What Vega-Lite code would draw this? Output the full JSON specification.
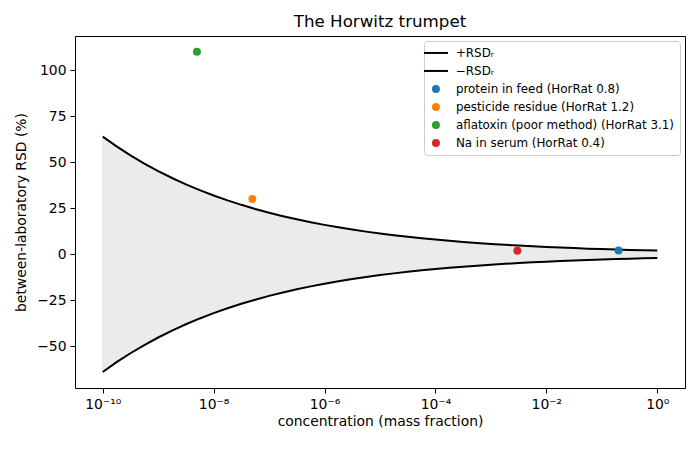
{
  "$schema": "https://vega.github.io/schema/vega-lite/v6.json",
  "autosize": "none",
  "padding": {"left": 75, "top": 36, "right": 15, "bottom": 62},
  "width": 610,
  "height": 352,
  "title": {
    "text": "The Horwitz trumpet",
    "fontSize": 16.7,
    "fontWeight": "normal",
    "font": "DejaVu Sans",
    "color": "black",
    "offset": 5
  },
  "datasets": {
    "curve": [
      {"c": 1e-10, "hi": 63.98, "lo": -63.98},
      {"c": 1.778e-10, "hi": 58.67, "lo": -58.67},
      {"c": 3.162e-10, "hi": 53.80, "lo": -53.80},
      {"c": 5.623e-10, "hi": 49.33, "lo": -49.33},
      {"c": 1e-9, "hi": 45.24, "lo": -45.24},
      {"c": 1.778e-9, "hi": 41.48, "lo": -41.48},
      {"c": 3.162e-9, "hi": 38.04, "lo": -38.04},
      {"c": 5.623e-9, "hi": 34.88, "lo": -34.88},
      {"c": 1e-8, "hi": 31.99, "lo": -31.99},
      {"c": 1.778e-8, "hi": 29.33, "lo": -29.33},
      {"c": 3.162e-8, "hi": 26.90, "lo": -26.90},
      {"c": 5.623e-8, "hi": 24.67, "lo": -24.67},
      {"c": 1e-7, "hi": 22.62, "lo": -22.62},
      {"c": 1.778e-7, "hi": 20.74, "lo": -20.74},
      {"c": 3.162e-7, "hi": 19.02, "lo": -19.02},
      {"c": 5.623e-7, "hi": 17.44, "lo": -17.44},
      {"c": 1e-6, "hi": 16.00, "lo": -16.00},
      {"c": 1.778e-6, "hi": 14.67, "lo": -14.67},
      {"c": 3.162e-6, "hi": 13.45, "lo": -13.45},
      {"c": 5.623e-6, "hi": 12.33, "lo": -12.33},
      {"c": 1e-5, "hi": 11.31, "lo": -11.31},
      {"c": 1.778e-5, "hi": 10.37, "lo": -10.37},
      {"c": 3.162e-5, "hi": 9.51, "lo": -9.51},
      {"c": 5.623e-5, "hi": 8.72, "lo": -8.72},
      {"c": 1e-4, "hi": 8.00, "lo": -8.00},
      {"c": 1.778e-4, "hi": 7.33, "lo": -7.33},
      {"c": 3.162e-4, "hi": 6.73, "lo": -6.73},
      {"c": 5.623e-4, "hi": 6.17, "lo": -6.17},
      {"c": 1e-3, "hi": 5.66, "lo": -5.66},
      {"c": 1.778e-3, "hi": 5.19, "lo": -5.19},
      {"c": 3.162e-3, "hi": 4.76, "lo": -4.76},
      {"c": 5.623e-3, "hi": 4.36, "lo": -4.36},
      {"c": 1e-2, "hi": 4.00, "lo": -4.00},
      {"c": 1.778e-2, "hi": 3.67, "lo": -3.67},
      {"c": 3.162e-2, "hi": 3.36, "lo": -3.36},
      {"c": 5.623e-2, "hi": 3.08, "lo": -3.08},
      {"c": 0.1, "hi": 2.83, "lo": -2.83},
      {"c": 0.1778, "hi": 2.59, "lo": -2.59},
      {"c": 0.3162, "hi": 2.38, "lo": -2.38},
      {"c": 0.5623, "hi": 2.18, "lo": -2.18},
      {"c": 1, "hi": 2.00, "lo": -2.00}
    ],
    "samples": [
      {"c": 0.2, "rsd": 2.04, "label": "protein in feed (HorRat 0.8)"},
      {"c": 5e-8, "rsd": 30.1, "label": "pesticide residue (HorRat 1.2)"},
      {"c": 5e-9, "rsd": 110.1, "label": "aflatoxin (poor method) (HorRat 3.1)"},
      {"c": 0.003, "rsd": 1.92, "label": "Na in serum (HorRat 0.4)"}
    ],
    "sides": [
      {"side": "hi", "label": "+RSDᵣ"},
      {"side": "lo", "label": "−RSDᵣ"}
    ]
  },
  "layer": [
    {
      "data": {"name": "curve"},
      "mark": {"type": "area", "fill": "#d3d3d3", "fillOpacity": 0.45, "stroke": "#d3d3d3", "strokeOpacity": 0.45, "strokeWidth": 1},
      "encoding": {
        "x": {"field": "c", "type": "quantitative"},
        "y": {"field": "lo", "type": "quantitative"},
        "y2": {"field": "hi"},
        "color": {"value": "#d3d3d3"}
      }
    },
    {
      "data": {"name": "curve"},
      "transform": [
        {"fold": ["hi", "lo"], "as": ["side", "rsd"]},
        {"lookup": "side", "from": {"data": {"name": "sides"}, "key": "side", "fields": ["label"]}}
      ],
      "mark": {"type": "line", "strokeWidth": 2},
      "encoding": {
        "x": {"field": "c", "type": "quantitative"},
        "y": {"field": "rsd", "type": "quantitative"},
        "detail": {"field": "side"},
        "color": {"field": "label", "type": "nominal"}
      }
    },
    {
      "data": {"name": "samples"},
      "mark": {"type": "point", "shape": "circle", "filled": true, "size": 64, "opacity": 1},
      "encoding": {
        "x": {"field": "c", "type": "quantitative"},
        "y": {"field": "rsd", "type": "quantitative"},
        "color": {"field": "label", "type": "nominal"}
      }
    }
  ],
  "encoding": {
    "x": {
      "field": "c",
      "type": "quantitative",
      "scale": {"type": "log", "domain": [3.162e-11, 3.162], "nice": false},
      "axis": {
        "title": "concentration (mass fraction)",
        "values": [1e-10, 1e-8, 1e-6, 1e-4, 1e-2, 1],
        "labelExpr": "['10⁻¹⁰','10⁻⁸','10⁻⁶','10⁻⁴','10⁻²','10⁰'][round((round(log(datum.value)/LN10)+10)/2)]"
      }
    },
    "y": {
      "type": "quantitative",
      "scale": {"domain": [-72.7, 118.7], "nice": false, "zero": false},
      "axis": {"title": "between-laboratory RSD (%)", "values": [-50, -25, 0, 25, 50, 75, 100], "titlePadding": 8}
    },
    "color": {
      "field": "label",
      "type": "nominal",
      "title": null,
      "scale": {
        "domain": ["+RSDᵣ", "−RSDᵣ", "protein in feed (HorRat 0.8)", "pesticide residue (HorRat 1.2)", "aflatoxin (poor method) (HorRat 3.1)", "Na in serum (HorRat 0.4)"],
        "range": ["black", "black", "#1f77b4", "#ff7f0e", "#2ca02c", "#d62728"]
      },
      "legend": {
        "symbolType": "circle",
        "encode": {
          "symbols": {
            "update": {
              "shape": {"signal": "indexof(['+RSDᵣ','−RSDᵣ'], datum.value) >= 0 ? 'stroke' : 'circle'"},
              "stroke": {"scale": "color", "field": "value"},
              "strokeWidth": {"signal": "indexof(['+RSDᵣ','−RSDᵣ'], datum.value) >= 0 ? 2 : 0"},
              "size": {"signal": "indexof(['+RSDᵣ','−RSDᵣ'], datum.value) >= 0 ? 576 : 64"}
            }
          }
        }
      }
    }
  },
  "config": {
    "font": "DejaVu Sans",
    "view": {"stroke": "black", "strokeWidth": 1},
    "axis": {
      "grid": false,
      "domain": false,
      "ticks": true,
      "tickColor": "black",
      "tickSize": 5,
      "labelColor": "black",
      "labelFontSize": 13.9,
      "labelFont": "DejaVu Sans",
      "titleFont": "DejaVu Sans",
      "titleFontSize": 13.9,
      "titleFontWeight": "normal",
      "titleColor": "black",
      "labelPadding": 4
    },
    "legend": {
      "orient": "top-right",
      "offset": 5,
      "fillColor": "white",
      "strokeColor": "#cccccc",
      "cornerRadius": 3,
      "padding": 6,
      "labelFont": "DejaVu Sans",
      "labelFontSize": 11.9,
      "labelColor": "black",
      "labelOffset": 14,
      "labelLimit": 0,
      "symbolSize": 576,
      "rowPadding": 5
    }
  }
}
